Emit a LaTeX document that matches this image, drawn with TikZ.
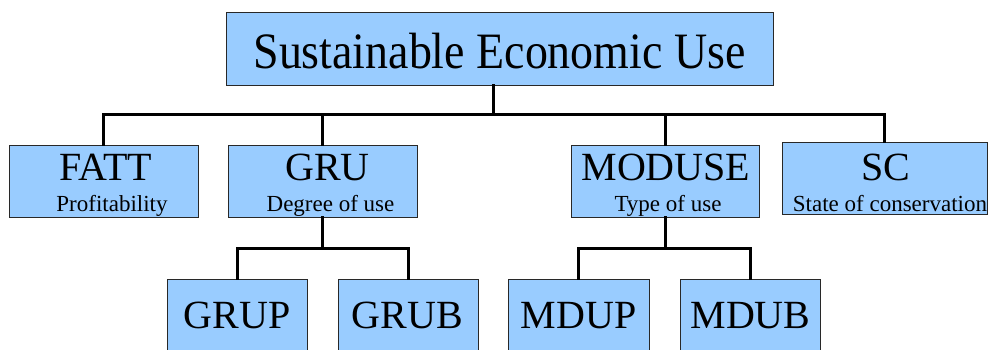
\documentclass[tikz,border=0pt]{standalone}
\usepackage{graphicx}
\usepackage{fontspec}
\setmainfont{Liberation Serif}
\definecolor{boxblue}{RGB}{153,204,255}
\definecolor{boxline}{RGB}{40,40,40}
\begin{document}
\begin{tikzpicture}[x=1pt,y=-1pt,
		box/.style={draw=boxline,fill=boxblue,line width=1pt,inner sep=0pt},
		conn/.style={line width=3pt,line cap=rect},
		big/.style={anchor=base,inner sep=0pt,font=\fontsize{40}{40}\selectfont},
		small/.style={anchor=base,inner sep=0pt,font=\fontsize{23}{23}\selectfont}]
		\useasboundingbox (0,0) rectangle (991,349);
		\clip (0,0) rectangle (991,349);
		% boxes
		\node[box,minimum width=547pt,minimum height=73pt] (top) at (499.5,48.5) {};
		\node[box,minimum width=189pt,minimum height=72pt] (fatt) at (103.5,181) {};
		\node[box,minimum width=189pt,minimum height=72pt] (gru) at (322.5,181) {};
		\node[box,minimum width=188pt,minimum height=72pt] (moduse) at (665,181) {};
		\node[box,minimum width=205pt,minimum height=72pt] (sc) at (884.5,178) {};
		\node[box,minimum width=140pt,minimum height=81pt] (grup) at (237,319.5) {};
		\node[box,minimum width=140pt,minimum height=81pt] (grub) at (408,319.5) {};
		\node[box,minimum width=141pt,minimum height=81pt] (mdup) at (578.5,319.5) {};
		\node[box,minimum width=140pt,minimum height=81pt] (mdub) at (750,319.5) {};
		% texts
		\node[anchor=base,inner sep=0pt,font=\fontsize{51}{51}\selectfont] (toptext) at (499.5,68) {\scalebox{0.9}[1]{Sustainable Economic Use}};
		\node[big] (fattname) at (106,180) {FATT};
		\node[small] (fattsub) at (112,211) {Profitability};
		\node[big] (gruname) at (327.5,180) {GRU};
		\node[small] (grusub) at (330.5,211) {Degree of use};
		\node[big] (modusename) at (666,180) {MODUSE};
		\node[small] (modusesub) at (668,211) {Type of use};
		\node[big] (scname) at (886,180) {SC};
		\node[small] (scsub) at (890,211) {State of conservation};
		\node[big] (grupname) at (237,328) {GRUP};
		\node[big] (grubname) at (407.5,328) {GRUB};
		\node[big] (mdupname) at (578.5,328) {MDUP};
		\node[big] (mdubname) at (750.5,328) {MDUB};
		% connectors
		\coordinate (stub) at (493,85);
		\coordinate (bus1) at (493,114);
		\coordinate (bus2) at (322.5,248);
		\coordinate (bus3) at (665,248);
		\draw[conn] (stub) -- (bus1);
		\draw[conn] (fatt.north) |- (bus1) -| (sc.north);
		\draw[conn] (gru.north) -- (gru.north |- bus1);
		\draw[conn] (moduse.north) -- (moduse.north |- bus1);
		\draw[conn] (gru.south) -- (bus2);
		\draw[conn] (grup.north) |- (bus2) -| (grub.north);
		\draw[conn] (moduse.south) -- (bus3);
		\draw[conn] (mdup.north) |- (bus3) -| (mdub.north);
\end{tikzpicture}
\end{document}
